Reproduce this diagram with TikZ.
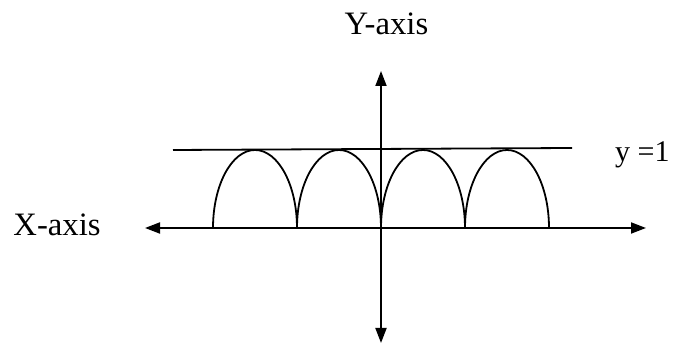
\documentclass[tikz,border=0pt]{standalone}
\usepackage{fontspec}
\setmainfont{Liberation Serif}
\usetikzlibrary{arrows.meta}
\begin{document}
\begin{tikzpicture}[x=1pt,y=1pt,
  axis/.style={line width=1.8pt,-{Triangle[length=15pt,width=11pt]}},
  arch/.style={line width=1.8pt},
  lbl/.style={inner sep=0pt,font=\fontsize{32.7}{36}\selectfont},
  lblsmall/.style={inner sep=0pt,font=\fontsize{30}{34}\selectfont}]
\useasboundingbox (0,0) rectangle (680,347);
% axes
\coordinate (O) at (381,119);
\coordinate (ytop) at (381,276);
\coordinate (ybot) at (381,4);
\coordinate (xl) at (145,119);
\coordinate (xr) at (646,119);
\draw[axis] (O) -- (ytop);
\draw[axis] (O) -- (ybot);
\draw[axis] (O) -- (xl);
\draw[axis] (O) -- (xr);
% line y=1
\coordinate (l1) at (173,197);
\coordinate (l2) at (572,199);
\draw[line width=1.8pt] (l1) -- (l2);
% arches
\foreach \s in {213,297,381,465}{
  \draw[arch] (\s,119) arc[start angle=180,end angle=0,x radius=42pt,y radius=78pt];
}
% labels
\node[lbl,anchor=base] (ylab) at (386.5,312) {Y-axis};
\node[lbl,anchor=base] (xlab) at (57,111) {X-axis};
\node[lblsmall,anchor=base west] (ylin) at (615,185) {y =1};
\end{tikzpicture}
\end{document}
